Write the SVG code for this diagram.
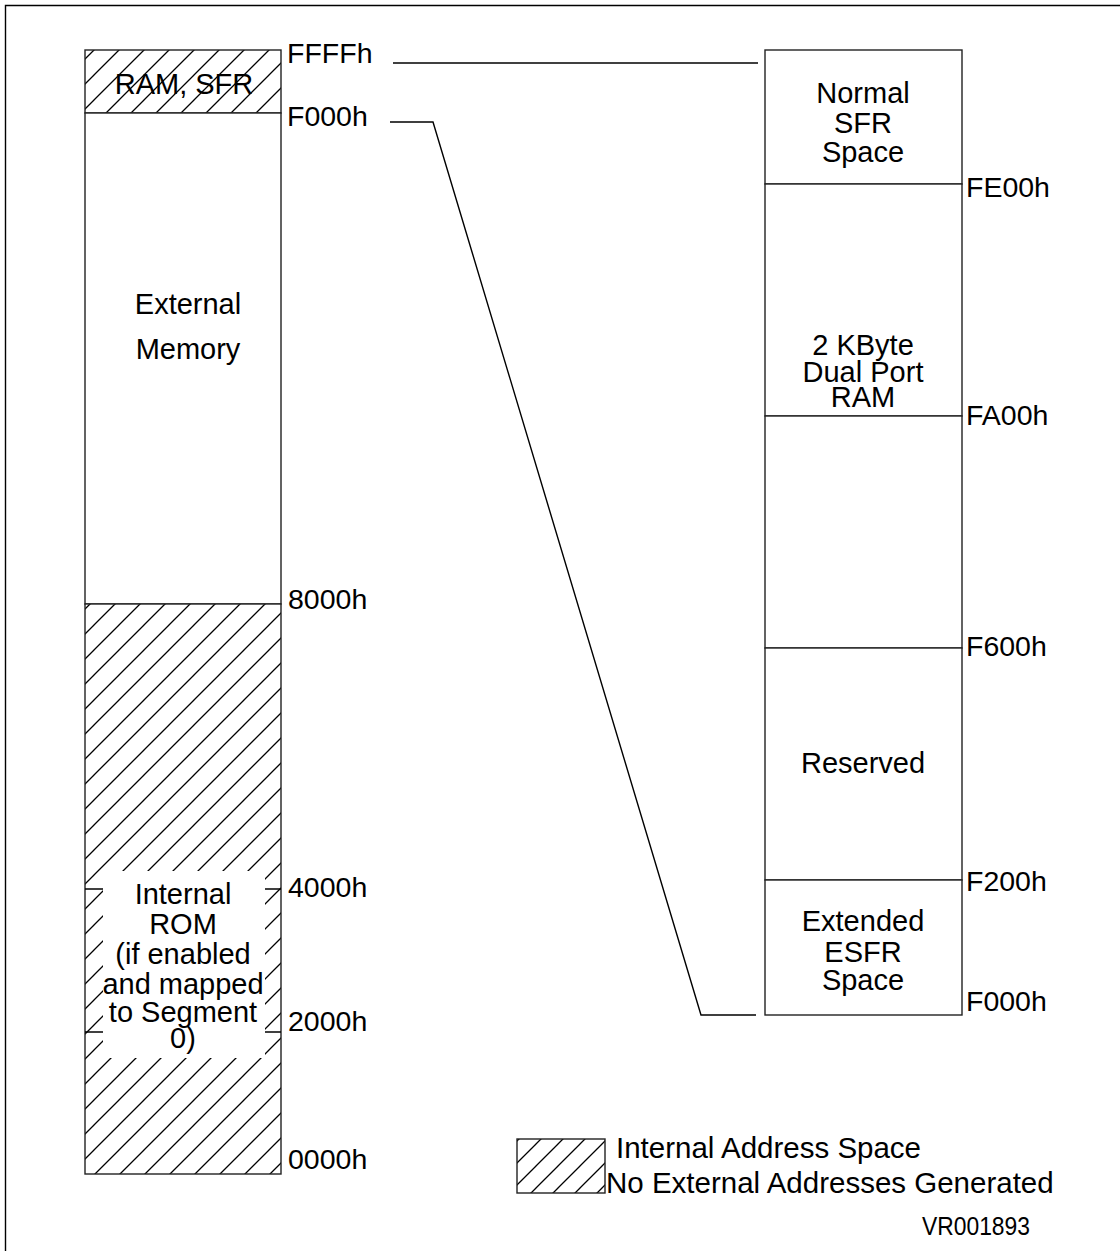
<svg xmlns="http://www.w3.org/2000/svg" width="1120" height="1251" viewBox="0 0 1120 1251">
  <style>
    text { font-family: "Liberation Sans", Arial, sans-serif; fill: #000; }
    .lbl { font-size: 29px; text-anchor: middle; }
    .addr { font-size: 28.5px; }
    .leg { font-size: 29.5px; }
    .box { fill: #fff; stroke: #222; stroke-width: 1.4; }
    .hbox { fill: url(#hatch); stroke: #222; stroke-width: 1.4; }
    .ln { fill: none; stroke: #000; stroke-width: 1.4; }
  </style>
  <defs>
    <pattern id="hatch" patternUnits="userSpaceOnUse" x="19" y="0" width="25" height="25">
      <rect width="25" height="25" fill="#fff"/>
      <path d="M0,25 L25,0 M-5,5 L5,-5 M20,30 L30,20" stroke="#000" stroke-width="1.3"/>
    </pattern>
    <pattern id="hatch2" patternUnits="userSpaceOnUse" x="8" y="0" width="22" height="22">
      <rect width="22" height="22" fill="#fff"/>
      <path d="M0,22 L22,0 M-5,5 L5,-5 M17,27 L27,17" stroke="#000" stroke-width="1.3"/>
    </pattern>
  </defs>

  <g id="frame">
    <path class="ln" d="M5.5,1251 L5.5,5.5 L1120,5.5" stroke="#333" stroke-width="1.8"/>
  </g>

  <g id="left-column">
    <g id="ram-sfr">
      <rect class="hbox" x="85" y="50" width="196" height="63"/>
      <text class="lbl" x="184" y="94">RAM, SFR</text>
    </g>
    <g id="external-memory">
      <rect class="box" x="85" y="113" width="196" height="491"/>
      <text class="lbl" x="188" y="314">External</text>
      <text class="lbl" x="188" y="359">Memory</text>
    </g>
    <g id="internal-rom">
      <rect class="hbox" x="85" y="604" width="196" height="570"/>
      <line class="ln" x1="85" y1="889" x2="281" y2="889"/>
      <line class="ln" x1="85" y1="1032" x2="281" y2="1032"/>
      <rect x="103" y="871" width="162" height="187" fill="#fff"/>
      <text class="lbl" x="183" y="904">Internal</text>
      <text class="lbl" x="183" y="934">ROM</text>
      <text class="lbl" x="183" y="964">(if enabled</text>
      <text class="lbl" x="183" y="994">and mapped</text>
      <text class="lbl" x="183" y="1022">to Segment</text>
      <text class="lbl" x="183" y="1048">0)</text>
    </g>
    <g id="left-addresses">
      <text class="addr" x="287" y="63">FFFFh</text>
      <text class="addr" x="287" y="126">F000h</text>
      <text class="addr" x="288" y="609">8000h</text>
      <text class="addr" x="288" y="897">4000h</text>
      <text class="addr" x="288" y="1031">2000h</text>
      <text class="addr" x="288" y="1169">0000h</text>
    </g>
  </g>

  <g id="right-column">
    <g id="normal-sfr">
      <rect class="box" x="765" y="50" width="197" height="134"/>
      <text class="lbl" x="863" y="103">Normal</text>
      <text class="lbl" x="863" y="133">SFR</text>
      <text class="lbl" x="863" y="162">Space</text>
    </g>
    <g id="dual-port-ram">
      <rect class="box" x="765" y="184" width="197" height="232"/>
      <text class="lbl" x="863" y="355">2 KByte</text>
      <text class="lbl" x="863" y="382">Dual Port</text>
      <text class="lbl" x="863" y="407">RAM</text>
    </g>
    <g id="unnamed">
      <rect class="box" x="765" y="416" width="197" height="232"/>
    </g>
    <g id="reserved">
      <rect class="box" x="765" y="648" width="197" height="232"/>
      <text class="lbl" x="863" y="773">Reserved</text>
    </g>
    <g id="extended-esfr">
      <rect class="box" x="765" y="880" width="197" height="135"/>
      <text class="lbl" x="863" y="931">Extended</text>
      <text class="lbl" x="863" y="962">ESFR</text>
      <text class="lbl" x="863" y="990">Space</text>
    </g>
    <g id="right-addresses">
      <text class="addr" x="966" y="197">FE00h</text>
      <text class="addr" x="966" y="425">FA00h</text>
      <text class="addr" x="966" y="656">F600h</text>
      <text class="addr" x="966" y="891">F200h</text>
      <text class="addr" x="966" y="1011">F000h</text>
    </g>
  </g>

  <g id="connectors">
    <line class="ln" x1="393" y1="63" x2="758" y2="63"/>
    <polyline class="ln" points="390,122 433,122 701,1015 756,1015"/>
  </g>

  <g id="legend">
    <rect class="hbox" x="517" y="1139" width="88" height="54" style="fill:url(#hatch2)"/>
    <text class="leg" x="616" y="1158">Internal Address Space</text>
    <text class="leg" x="606" y="1193">No External Addresses Generated</text>
    <text x="922" y="1235" font-size="26" textLength="108" lengthAdjust="spacingAndGlyphs">VR001893</text>
  </g>
</svg>
